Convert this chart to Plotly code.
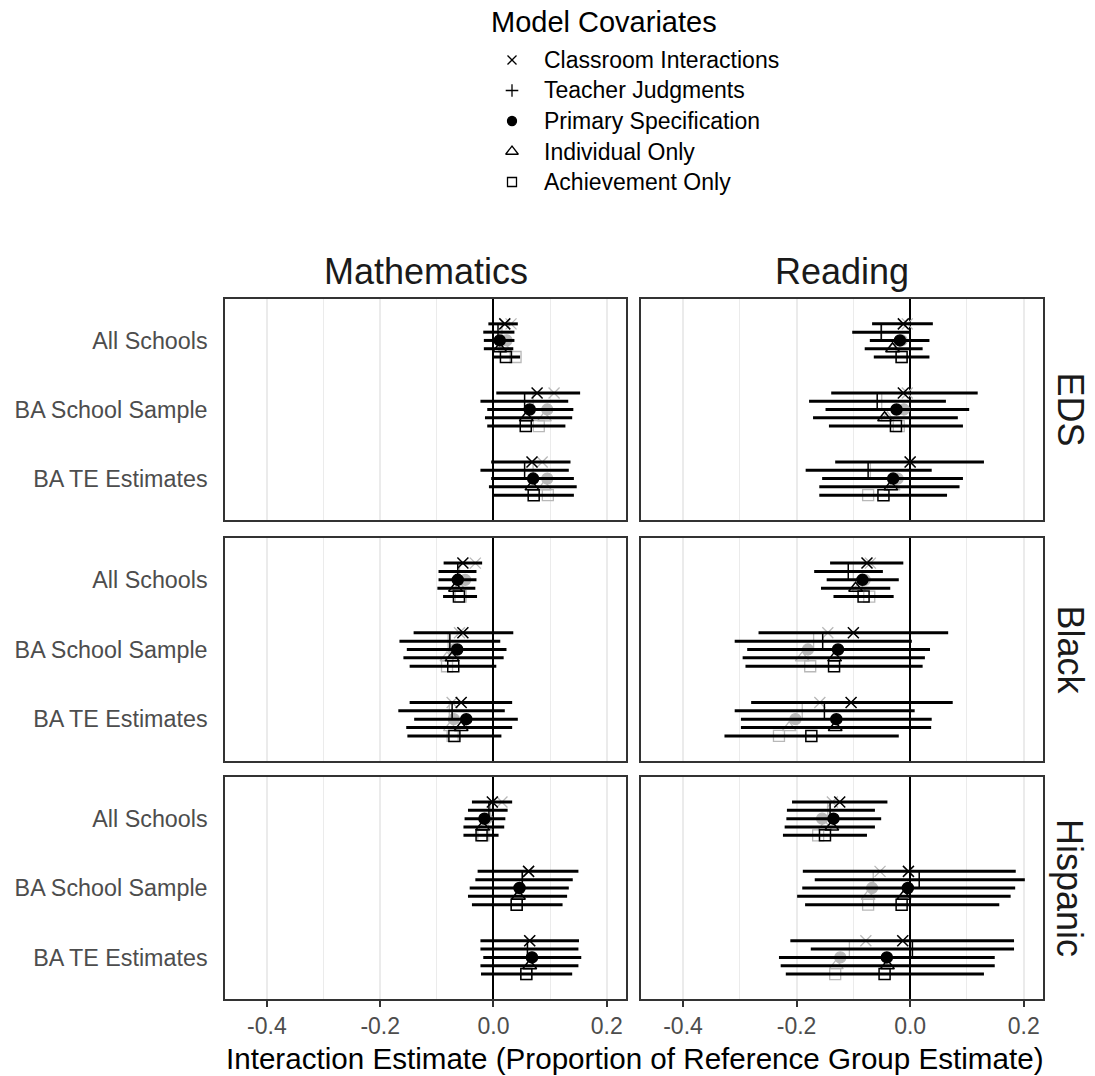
import plotly.graph_objects as go

W, H = 1095, 1076

# ---------------- data ----------------
categories = ["All Schools", "BA School Sample", "BA TE Estimates"]
covariates = ["Classroom Interactions", "Teacher Judgments", "Primary Specification",
              "Individual Only", "Achievement Only"]
subjects = ["Mathematics", "Reading"]
groups = ["EDS", "Black", "Hispanic"]
x_tickvals = [-0.4, -0.2, 0.0, 0.2]
x_ticktext = ["-0.4", "-0.2", "0.0", "0.2"]

# each list: one sub-list per category, values in covariate order
math_eds_est = [[0.020, 0.008, 0.011, 0.011, 0.022],
                [0.077, 0.055, 0.064, 0.058, 0.057],
                [0.068, 0.055, 0.070, 0.068, 0.071]]
math_eds_lo = [[-0.009, -0.018, -0.017, -0.017, 0.000],
               [0.005, -0.023, -0.011, -0.015, -0.011],
               [-0.004, -0.023, -0.004, -0.008, -0.002]]
math_eds_hi = [[0.043, 0.037, 0.037, 0.035, 0.047],
               [0.153, 0.132, 0.141, 0.139, 0.127],
               [0.136, 0.133, 0.142, 0.147, 0.142]]
math_eds_gray = [[0.031, 0.015, 0.023, 0.020, 0.039],
                 [0.107, 0.070, 0.095, 0.090, 0.080],
                 [0.086, 0.070, 0.095, 0.090, 0.096]]

read_eds_est = [[-0.012, -0.051, -0.018, -0.031, -0.015],
                [-0.012, -0.058, -0.024, -0.045, -0.025],
                [0.000, -0.074, -0.030, -0.034, -0.047]]
read_eds_lo = [[-0.067, -0.102, -0.071, -0.080, -0.064],
               [-0.139, -0.178, -0.149, -0.171, -0.143],
               [-0.132, -0.184, -0.155, -0.160, -0.160]]
read_eds_hi = [[0.040, -0.001, 0.034, 0.022, 0.034],
               [0.119, 0.063, 0.104, 0.084, 0.093],
               [0.130, 0.038, 0.093, 0.087, 0.065]]
read_eds_gray = [[-0.005, -0.050, -0.015, -0.030, -0.015],
                 [-0.005, -0.050, -0.011, -0.040, -0.020],
                 [0.000, -0.070, -0.022, -0.030, -0.074]]

math_black_est = [[-0.054, -0.063, -0.063, -0.067, -0.061],
                  [-0.054, -0.077, -0.064, -0.073, -0.071],
                  [-0.057, -0.073, -0.048, -0.057, -0.069]]
math_black_lo = [[-0.088, -0.097, -0.097, -0.099, -0.089],
                 [-0.141, -0.166, -0.153, -0.159, -0.148],
                 [-0.148, -0.168, -0.140, -0.154, -0.152]]
math_black_hi = [[-0.020, -0.030, -0.030, -0.032, -0.029],
                 [0.035, 0.012, 0.023, 0.018, 0.005],
                 [0.033, 0.020, 0.043, 0.033, 0.014]]
math_black_gray = [[-0.032, -0.060, -0.050, -0.060, -0.058],
                   [-0.060, -0.080, -0.070, -0.082, -0.082],
                   [-0.073, -0.078, -0.070, -0.076, -0.072]]

read_black_est = [[-0.076, -0.109, -0.084, -0.096, -0.082],
                  [-0.100, -0.154, -0.127, -0.133, -0.134],
                  [-0.104, -0.151, -0.130, -0.132, -0.174]]
read_black_lo = [[-0.141, -0.169, -0.147, -0.157, -0.135],
                 [-0.267, -0.309, -0.287, -0.295, -0.290],
                 [-0.280, -0.309, -0.298, -0.298, -0.327]]
read_black_hi = [[-0.012, -0.048, -0.020, -0.035, -0.029],
                 [0.067, 0.003, 0.035, 0.026, 0.022],
                 [0.075, 0.008, 0.038, 0.037, -0.020]]
read_black_gray = [[-0.070, -0.100, -0.080, -0.090, -0.072],
                   [-0.145, -0.170, -0.180, -0.190, -0.176],
                   [-0.159, -0.190, -0.202, -0.213, -0.231]]

math_hisp_est = [[-0.002, -0.008, -0.016, -0.019, -0.021],
                 [0.062, 0.051, 0.046, 0.044, 0.041],
                 [0.064, 0.060, 0.068, 0.064, 0.058]]
math_hisp_lo = [[-0.038, -0.045, -0.051, -0.053, -0.053],
                [-0.028, -0.032, -0.042, -0.045, -0.038],
                [-0.023, -0.023, -0.018, -0.023, -0.022]]
math_hisp_hi = [[0.033, 0.025, 0.021, 0.019, 0.009],
                [0.150, 0.140, 0.133, 0.130, 0.122],
                [0.151, 0.150, 0.155, 0.150, 0.139]]
math_hisp_gray = [[0.015, -0.005, -0.012, -0.015, -0.018],
                  [0.062, 0.050, 0.046, 0.044, 0.041],
                  [0.064, 0.060, 0.068, 0.064, 0.058]]

read_hisp_est = [[-0.124, -0.141, -0.135, -0.138, -0.150],
                 [-0.003, 0.016, -0.004, -0.011, -0.015],
                 [-0.013, 0.004, -0.041, -0.040, -0.045]]
read_hisp_lo = [[-0.208, -0.217, -0.218, -0.221, -0.224],
                [-0.189, -0.168, -0.190, -0.199, -0.185],
                [-0.211, -0.175, -0.231, -0.228, -0.219]]
read_hisp_hi = [[-0.040, -0.062, -0.051, -0.062, -0.076],
                [0.186, 0.202, 0.185, 0.177, 0.157],
                [0.183, 0.183, 0.149, 0.149, 0.130]]
read_hisp_gray = [[-0.137, -0.145, -0.155, -0.150, -0.162],
                  [-0.053, -0.065, -0.067, -0.074, -0.074],
                  [-0.078, -0.107, -0.123, -0.130, -0.132]]

panels = {
    (0, 0): (math_eds_est, math_eds_lo, math_eds_hi, math_eds_gray),
    (0, 1): (read_eds_est, read_eds_lo, read_eds_hi, read_eds_gray),
    (1, 0): (math_black_est, math_black_lo, math_black_hi, math_black_gray),
    (1, 1): (read_black_est, read_black_lo, read_black_hi, read_black_gray),
    (2, 0): (math_hisp_est, math_hisp_lo, math_hisp_hi, math_hisp_gray),
    (2, 1): (read_hisp_est, read_hisp_lo, read_hisp_hi, read_hisp_gray),
}

# ---------------- styling ----------------
FONT = "Liberation Sans, Arial, sans-serif"
symbols = ["x-thin-open", "cross-thin-open", "circle", "triangle-up-open", "square-open"]
sizes = [11, 12, 11, 12, 11]
legend_sizes = [9, 9, 9, 11, 9]
dodge = 0.12
gray = "#b8b8b8"

col_px = [(225, 626), (641, 1043)]
row_px = [(299, 520), (538, 761), (777, 999)]

fig = go.Figure()
layout = dict(
    width=W, height=H,
    margin=dict(l=0, r=0, t=0, b=0),
    paper_bgcolor="white", plot_bgcolor="rgba(0,0,0,0)",
    font=dict(family=FONT, color="#1a1a1a"),
    showlegend=False,
)

for (r, c), (est, lo, hi, gr) in panels.items():
    idx = r * 2 + c + 1
    xa = "x" if idx == 1 else f"x{idx}"
    ya = "y" if idx == 1 else f"y{idx}"
    xkey = "xaxis" if idx == 1 else f"xaxis{idx}"
    ykey = "yaxis" if idx == 1 else f"yaxis{idx}"
    x0, x1 = col_px[c]
    y0, y1 = row_px[r]
    bottom = (r == 2)
    layout[xkey] = dict(
        domain=[x0 / W, x1 / W], anchor=ya,
        range=[-0.474, 0.234],
        tickvals=x_tickvals, ticktext=x_ticktext,
        showticklabels=bottom,
        ticks="outside" if bottom else "", ticklen=6, tickwidth=1.5, tickcolor="#333333",
        tickfont=dict(size=23, color="#4d4d4d", family=FONT),
        showgrid=True, gridcolor="#ebebeb", gridwidth=1.5,
        minor=dict(dtick=0.1, tick0=0, showgrid=True, gridcolor="#ebebeb", gridwidth=1.2, ticks=""),
        zeroline=True, zerolinecolor="black", zerolinewidth=2,
        showline=True, mirror=True, linecolor="#333333", linewidth=1.5,
        automargin=False, fixedrange=True,
    )
    layout[ykey] = dict(
        domain=[1 - y1 / H, 1 - y0 / H], anchor=xa,
        range=[3.6, 0.4],
        tickvals=[1, 2, 3], ticktext=categories,
        showticklabels=(c == 0), ticks="", ticklabelstandoff=11,
        tickfont=dict(size=23.3, color="#4d4d4d", family=FONT),
        showgrid=False, zeroline=False,
        showline=True, mirror=True, linecolor="#333333", linewidth=1.5,
        automargin=False, fixedrange=True,
    )
    # gray comparison markers
    for j, cov in enumerate(covariates):
        fig.add_trace(go.Scatter(
            x=[gr[k][j] for k in range(3)],
            y=[k + 1 + (j - 2) * dodge for k in range(3)],
            mode="markers", xaxis=xa, yaxis=ya, showlegend=False, hoverinfo="skip",
            marker=dict(symbol=symbols[j], size=sizes[j], color=gray,
                        line=dict(color=gray, width=1.3)),
        ))
    # black estimates with intervals
    for j, cov in enumerate(covariates):
        xs = [est[k][j] for k in range(3)]
        fig.add_trace(go.Scatter(
            x=xs,
            y=[k + 1 + (j - 2) * dodge for k in range(3)],
            mode="markers", xaxis=xa, yaxis=ya,
            name=cov, showlegend=False,
            marker=dict(symbol=symbols[j], size=sizes[j], color="black",
                        line=dict(color="black", width=1.5)),
            error_x=dict(type="data", symmetric=False,
                         array=[hi[k][j] - est[k][j] for k in range(3)],
                         arrayminus=[est[k][j] - lo[k][j] for k in range(3)],
                         width=0, thickness=3, color="black"),
        ))

# ---------------- legend (drawn on a small pixel-scaled helper axis) ----------------
LX0, LX1, LY0, LY1 = 470, 820, 0, 200
layout["xaxis7"] = dict(domain=[LX0 / W, LX1 / W], range=[LX0, LX1], visible=False,
                        anchor="y7", fixedrange=True)
layout["yaxis7"] = dict(domain=[1 - LY1 / H, 1 - LY0 / H], range=[LY1, LY0], visible=False,
                        anchor="x7", fixedrange=True)
legend_item_y = [60, 90.5, 121, 151.5, 182]
legend_sym_x = 512
legend_text_x = 542
for j, cov in enumerate(covariates):
    fig.add_trace(go.Scatter(
        x=[legend_sym_x], y=[legend_item_y[j]], mode="markers", xaxis="x7", yaxis="y7",
        showlegend=False, hoverinfo="skip",
        marker=dict(symbol=symbols[j], size=legend_sizes[j], color="black",
                    line=dict(color="black", width=1.3)),
    ))

annotations = []
annotations.append(dict(text="Model Covariates", x=489 / W, y=1 - 22 / H,
                        xref="paper", yref="paper", showarrow=False,
                        xanchor="left", yanchor="middle",
                        font=dict(size=29, color="black", family=FONT)))
for j, cov in enumerate(covariates):
    annotations.append(dict(text=cov, x=legend_text_x / W, y=1 - legend_item_y[j] / H,
                            xref="paper", yref="paper", showarrow=False,
                            xanchor="left", yanchor="middle",
                            font=dict(size=23, color="black", family=FONT)))
for c, name in enumerate(subjects):
    x0, x1 = col_px[c]
    annotations.append(dict(text=name, x=(x0 + x1) / 2 / W, y=1 - 272 / H,
                            xref="paper", yref="paper", showarrow=False,
                            xanchor="center", yanchor="middle",
                            font=dict(size=36, color="#1a1a1a", family=FONT)))
for r, name in enumerate(groups):
    y0, y1 = row_px[r]
    annotations.append(dict(text=name, x=1070 / W, y=1 - (y0 + y1) / 2 / H,
                            xref="paper", yref="paper", showarrow=False, textangle=90,
                            xanchor="center", yanchor="middle",
                            font=dict(size=36, color="#1a1a1a", family=FONT)))
annotations.append(dict(text="Interaction Estimate (Proportion of Reference Group Estimate)",
                        x=634 / W, y=1 - 1058 / H, xref="paper", yref="paper",
                        showarrow=False, xanchor="center", yanchor="middle",
                        font=dict(size=29.6, color="black", family=FONT)))
layout["annotations"] = annotations

fig.update_layout(**layout)
fig.write_html("out.html",
               config={"displayModeBar": False, "staticPlot": False},
               post_script="document.body.style.margin='0';document.body.style.padding='0';")
